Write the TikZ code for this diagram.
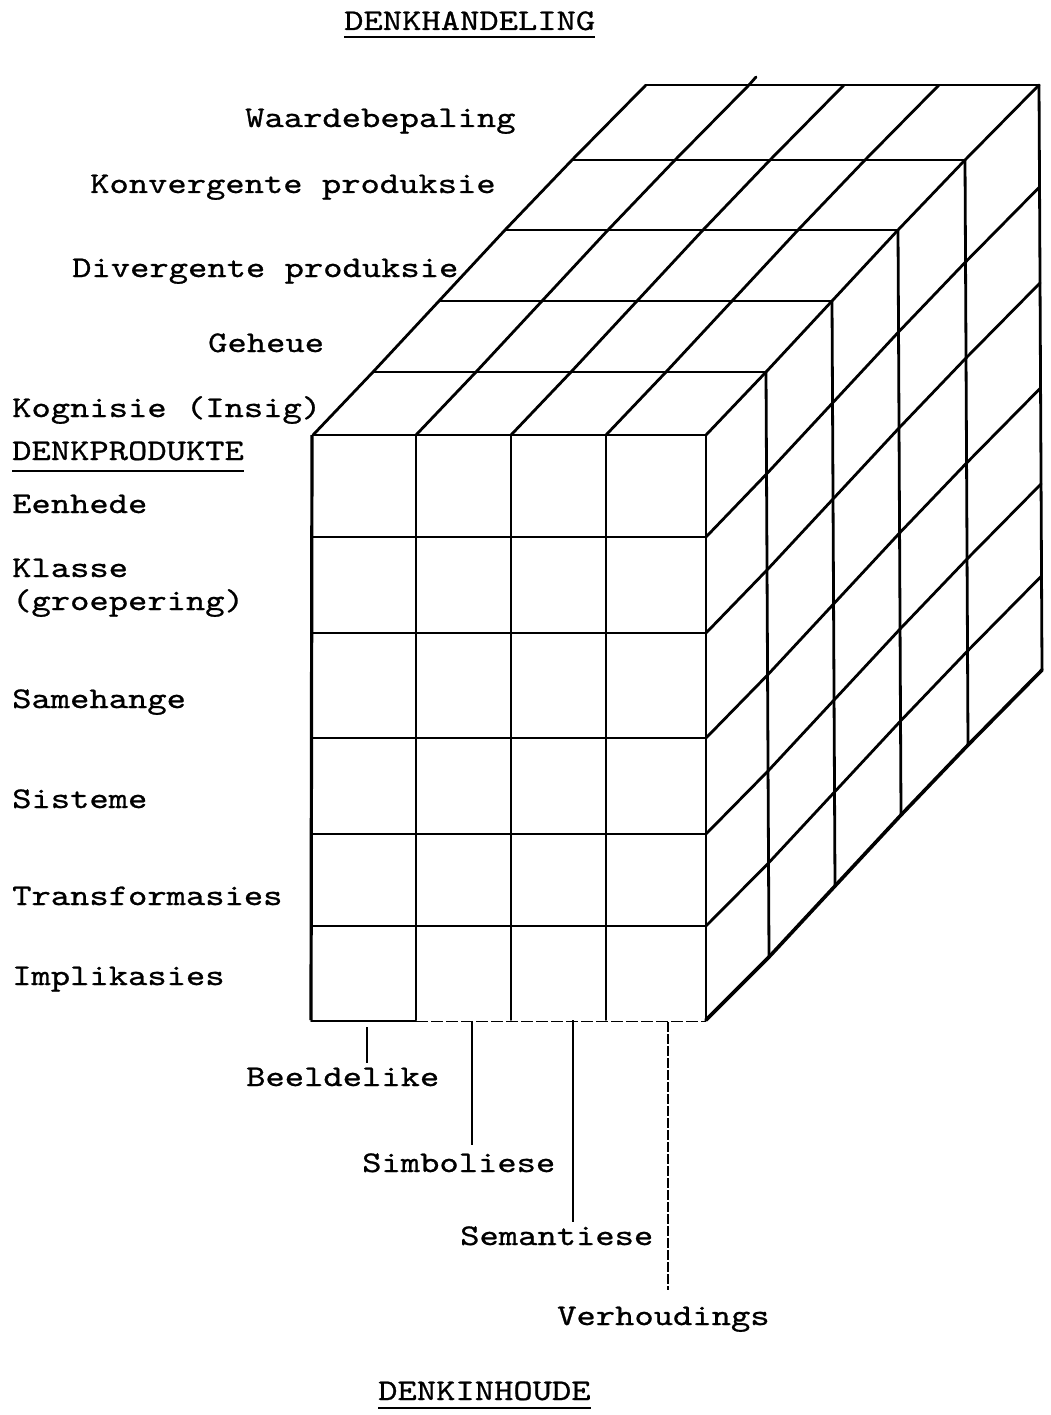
\documentclass[tikz,border=0pt]{standalone}
\usepackage{fontspec}
\newfontfamily\tw[FakeStretch=1.226,FakeBold=0.8]{lmmono10-regular.otf}
\begin{document}
\begin{tikzpicture}[x=1pt,y=-1pt,
  lbl/.style={anchor=base west,inner sep=0pt,font=\tw\fontsize{30}{36}\selectfont},
  edge/.style={line width=2.8pt,line cap=round,line join=round},
  thinedge/.style={line width=1.9pt,line cap=round},
  guide/.style={line width=1.2pt},
  uline/.style={line width=2.4pt}]
\useasboundingbox (0,0) rectangle (1051,1415);
\def\depth{60/-63,126/-134,192/-205,259/-275,333/-350}

% ---------- front face ----------
\foreach \c in {416,511,606} \draw[thinedge] (\c,435) -- (\c,1020);
\foreach \r in {537,633,738,834,926} \draw[thinedge] (313,\r) -- (706,\r);
\draw[edge] (313,435) -- (706,435);
\draw[line width=3.2pt] (312,435) -- (311,1020);
\draw[thinedge] (311,1021) -- (416,1021);
\draw[line width=1pt,dash pattern=on 12pt off 3pt] (416,1021) -- (706,1021);
\draw[thinedge] (706,435) -- (706,1020);

% ---------- top face ----------
\foreach \dx/\dy in \depth
  \draw[edge] ({313+\dx},{435+\dy}) -- ({706+\dx},{435+\dy});
\foreach \c in {313,416,511,606,706}
  \draw[edge] (\c,435) \foreach \dx/\dy in \depth { -- ({\c+\dx},{435+\dy}) };
\draw[edge] ({416+333},{435-350}) -- ++(7,-8);

% ---------- right face ----------
\foreach \dx/\dy in \depth
  \draw[edge] ({706+\dx},{435+\dy}) -- ({706+\dx+3},{1020+\dy});
\foreach \r in {537,633,738,834,926}
  \draw[edge] (706,\r) \foreach \dx/\dy in \depth { -- ({706+\dx+3*(\r-435)/585},{\r+\dy}) };
\draw[line width=3.6pt,line cap=round,line join=round] (706,1020) \foreach \dx/\dy in \depth { -- ({706+\dx+3},{1020+\dy}) };

% ---------- labels ----------
\node[lbl] (dhand) at (344,30) {DENKHANDELING};
\node[lbl] (waarde) at (245,127) {Waardebepaling};
\node[lbl] (konv) at (90,193) {Konvergente produksie};
\node[lbl] (div) at (72,277) {Divergente produksie};
\node[lbl] (geheue) at (208,352) {Geheue};
\node[lbl] (kog) at (12,417) {Kognisie (Insig)};
\node[lbl] (dprod) at (12,460) {DENKPRODUKTE};
\node[lbl] (eenh) at (12,513) {Eenhede};
\node[lbl] (klas) at (12,577) {Klasse};
\node[lbl] (groep) at (12,610) {(groepering)};
\node[lbl] (same) at (12,708) {Samehange};
\node[lbl] (sist) at (12,808) {Sisteme};
\node[lbl] (trans) at (12,905) {Transformasies};
\node[lbl] (impl) at (12,985) {Implikasies};
\node[lbl] (beeld) at (246,1086) {Beeldelike};
\node[lbl] (simb) at (362,1172) {Simboliese};
\node[lbl] (sem) at (460,1245) {Semantiese};
\node[lbl] (verh) at (557,1325) {Verhoudings};
\node[lbl] (dinh) at (378,1400) {DENKINHOUDE};

% underlines
\draw[uline] ([yshift=-7pt]dhand.base west) -- ([yshift=-7pt]dhand.base east);
\draw[uline] ([yshift=-11pt]dprod.base west) -- ([yshift=-11pt]dprod.base east);
\draw[uline] ([yshift=-8pt]dinh.base west) -- ([yshift=-8pt]dinh.base east);

% guide lines
\coordinate (gb1) at (367,1027); \coordinate (gb2) at (367,1063);
\coordinate (gs1) at (472,1022); \coordinate (gs2) at (472,1145);
\coordinate (ge1) at (573,1020); \coordinate (ge2) at (573,1222);
\coordinate (gv1) at (668,1022); \coordinate (gv2) at (668,1290);
\draw[guide] (gb1) -- (gb2);
\draw[guide] (gs1) -- (gs2);
\draw[guide] (ge1) -- (ge2);
\draw[guide,dash pattern=on 10pt off 2pt] (gv1) -- (gv2);
\end{tikzpicture}
\end{document}
